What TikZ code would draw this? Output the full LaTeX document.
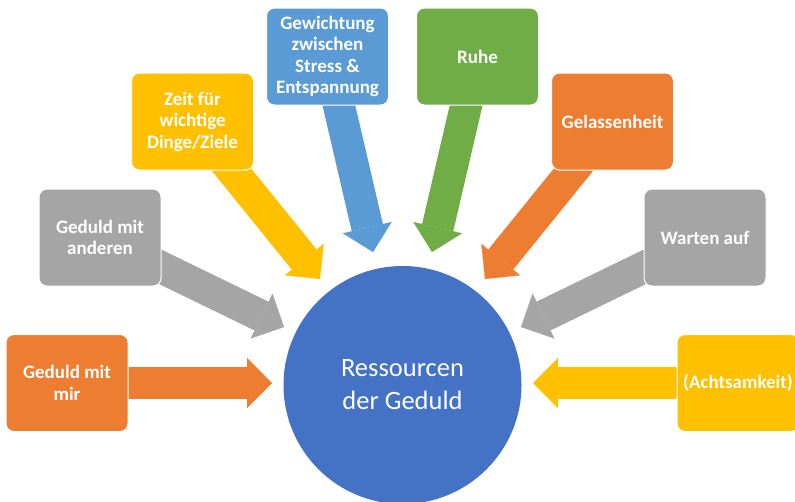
\documentclass[tikz,border=0pt]{standalone}
\usepackage{fontspec}
\setmainfont{Carlito}
\usetikzlibrary{arrows.meta}
\definecolor{cOrange}{HTML}{ED7D31}
\definecolor{cGray}{HTML}{A5A5A5}
\definecolor{cYellow}{HTML}{FFC000}
\definecolor{cBlue}{HTML}{5B9BD5}
\definecolor{cGreen}{HTML}{70AD47}
\definecolor{cCircle}{HTML}{4472C4}
\pgfdeclarelayer{bg}
\pgfsetlayers{bg,main}
\begin{document}
\begin{tikzpicture}[x=1pt,y=-1pt,
  box/.style={rectangle, rounded corners=8pt, draw=white, line width=1pt,
    minimum width=122pt, minimum height=97pt, text=white,
    font=\bfseries\fontsize{19}{21.5}\selectfont, align=center, inner sep=2pt},
  barrow/.style={line width=32pt, line cap=butt,
    -{Triangle[length=25pt,width=50pt,line width=0.1pt]}},
  hub/.style={circle, fill=cCircle, minimum size=238pt, inner sep=0pt,
    text=white, font=\fontsize{26.5}{33}\selectfont, align=center}
]
\useasboundingbox (0,0) rectangle (795,501);
% centre
\node[hub] (c) at (402.5,385) {Ressourcen\\der Geduld};
% boxes
\node[box, fill=cOrange] (b1) at (67,383) {Geduld mit\\mir};
\node[box, fill=cGray]   (b2) at (100,237.5) {Geduld mit\\anderen};
\node[box, fill=cYellow] (b3) at (192.5,121.5) {Zeit für\\wichtige\\Dinge/Ziele};
\node[box, fill=cBlue]   (b4) at (327.5,56.5) {Gewichtung\\zwischen\\Stress \&\\Entspannung};
\node[box, fill=cGreen]  (b5) at (477.5,56.5) {Ruhe};
\node[box, fill=cOrange] (b6) at (612.5,121.5) {Gelassenheit};
\node[box, fill=cGray]   (b7) at (705,237.5) {Warten auf};
\node[box, fill=cYellow] (b8) at (738,383) {(Achtsamkeit)};
% arrow tips
\coordinate (t1) at (272,383);
\coordinate (t2) at (284,327);
\coordinate (t3) at (320,279);
\coordinate (t4) at (373,252);
\coordinate (t5) at (432,252);
\coordinate (t6) at (485,279);
\coordinate (t7) at (521,327);
\coordinate (t8) at (533,383);
\begin{pgfonlayer}{bg}
\draw[barrow, cOrange] (b1.center) -- (t1);
\draw[barrow, cGray]   (b2.center) -- (t2);
\draw[barrow, cYellow] (b3.center) -- (t3);
\draw[barrow, cBlue]   (b4.center) -- (t4);
\draw[barrow, cGreen]  (b5.center) -- (t5);
\draw[barrow, cOrange] (b6.center) -- (t6);
\draw[barrow, cGray]   (b7.center) -- (t7);
\draw[barrow, cYellow] (b8.center) -- (t8);
\end{pgfonlayer}
\end{tikzpicture}
\end{document}
